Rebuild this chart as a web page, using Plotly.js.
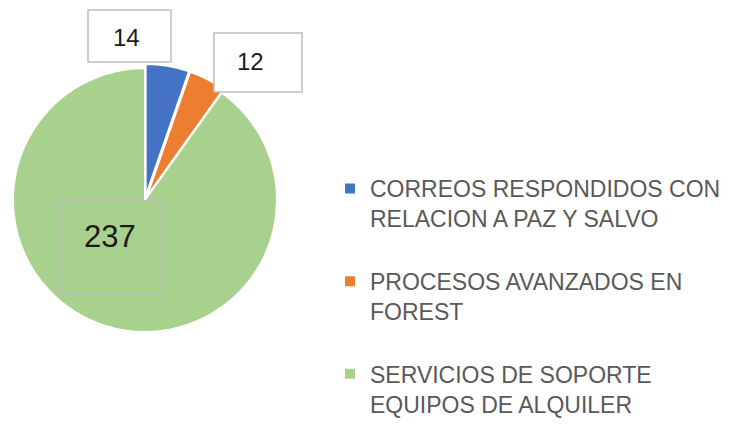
<!DOCTYPE html>
<html>
<head>
<meta charset="utf-8">
<script src="https://cdn.plot.ly/plotly-3.0.1.min.js"></script>
<style>html,body{margin:0;padding:0;background:#fff;}#chart{width:729px;height:427px;}</style>
</head>
<body>
<div id="chart"></div>
<script>
const categories = [
  "CORREOS RESPONDIDOS CON<br>RELACION A PAZ Y SALVO<br>&nbsp;",
  "PROCESOS AVANZADOS EN<br>FOREST<br>&nbsp;",
  "SERVICIOS DE SOPORTE<br>EQUIPOS DE ALQUILER"
];
const values = [14, 12, 237];
const sliceColors = ["#4472C4", "#ED7D31", "#A9D18E"];

// label box placement (paper px): [left, top, right, bottom], text centre
const boxes = [
  {rect: [88, 10, 171, 62], tx: 126, ty: 38, size: 24, fill: "#ffffff"},
  {rect: [214, 33, 302, 92], tx: 250, ty: 61, size: 24, fill: "#ffffff"},
  {rect: [58, 201, 163, 293], tx: 110, ty: 237, size: 31, fill: "rgba(0,0,0,0)"}
];

const W = 729, H = 427;
const px = x => x / W;
const py = y => (H - y) / H;

const shapes = boxes.map(b => ({
  type: "rect", xref: "paper", yref: "paper",
  x0: px(b.rect[0]), x1: px(b.rect[2]), y0: py(b.rect[3]), y1: py(b.rect[1]),
  line: {color: "#bfbfbf", width: 1.5}, fillcolor: b.fill, layer: "above"
}));
const annotations = boxes.map((b, i) => ({
  xref: "paper", yref: "paper", x: px(b.tx), y: py(b.ty),
  xanchor: "center", yanchor: "middle", showarrow: false,
  text: String(values[i]),
  font: {family: "Liberation Sans, Arial, sans-serif", size: b.size, color: "#1a1a1a"}
}));

const cx = 145, cy = 200, r = 132, pullAmt = 0.03;
const half = r * (1 + pullAmt);

const data = [{
  type: "pie",
  labels: categories,
  values: values,
  sort: false,
  direction: "clockwise",
  rotation: 0,
  pull: [pullAmt, pullAmt, 0],
  marker: {colors: sliceColors, line: {color: "#ffffff", width: 2}},
  textinfo: "none",
  hoverinfo: "label+value",
  domain: {x: [px(cx - half), px(cx + half)], y: [py(cy + half), py(cy - half)]}
}];

const layout = {
  width: W, height: H,
  margin: {l: 0, r: 0, t: 0, b: 0, autoexpand: false},
  paper_bgcolor: "#ffffff",
  showlegend: true,
  legend: {
    x: px(330), y: py(167), xanchor: "left", yanchor: "top",
    valign: "top",
    font: {family: "Liberation Sans, Arial, sans-serif", size: 23, color: "#595959"},
    bgcolor: "rgba(0,0,0,0)"
  },
  shapes: shapes,
  annotations: annotations
};

Plotly.newPlot("chart", data, layout, {displayModeBar: false, staticPlot: true});
</script>
</body>
</html>
